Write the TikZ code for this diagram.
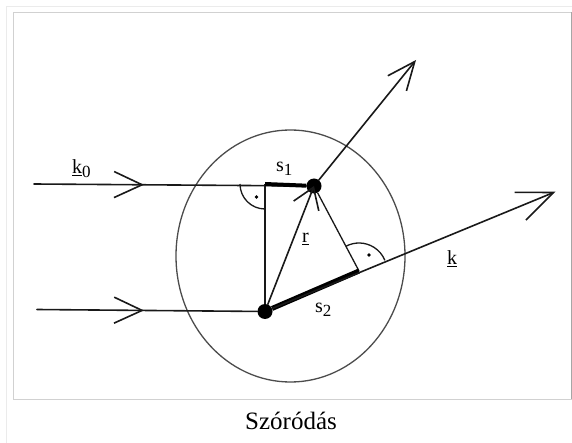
\documentclass[tikz,border=0pt]{standalone}
\usepackage{fontspec}
\setmainfont{Liberation Serif}
\usetikzlibrary{arrows.meta,decorations.markings}
\begin{document}
\begin{tikzpicture}[x=1pt,y=-1pt,
  ln/.style={line width=1.6pt, draw=black!90, line cap=round},
  thin/.style={line width=1.3pt, draw=black!90},
  thk/.style={line width=4.5pt, draw=black},
  dotnode/.style={circle, fill=black, inner sep=0pt, minimum size=15pt},
  smalldot/.style={circle, fill=black, inner sep=0pt, minimum size=3.6pt},
  lbl/.style={font=\fontsize{20}{20}\selectfont, inner sep=0pt},
  sub/.style={font=\fontsize{17}{17}\selectfont},
  chev/.style={postaction={decorate, decoration={markings,
     mark=at position #1 with {\arrow{Straight Barb[length=28pt,width=26pt,line width=1.6pt]}}}}}
]
\useasboundingbox (0,0) rectangle (572,443);
\fill[white] (0,0) rectangle (572,443);
% frames
\draw[black!8, line width=1pt] (6.5,443) -- (6.5,6.5) -- (572,6.5);
\draw[black!18, line width=1pt] (13.5,12.5) -- (13.5,399) -- (572,399);
\draw[black!18, line width=1pt] (13.5,12.5) -- (571.5,12.5);
\draw[black!35, line width=1pt] (571.5,12.5) -- (571.5,399);
% circle
\draw[black!70, line width=1.3pt] (290.5,256) ellipse [x radius=114.5, y radius=126];
% points
\coordinate (a1) at (34,184);
\coordinate (a2) at (37,309.5);
\coordinate (c) at (265,184);
\coordinate (f) at (359,271);
\coordinate (u) at (416,60);
\coordinate (kt) at (555.5,191.7);
\node[dotnode] (t) at (314,186) {};
\node[dotnode] (b) at (265,311.5) {};
% incoming rays
\draw[ln, chev=110pt] (a1) -- (t);
\draw[ln, chev=107pt] (a2) -- (b);
% construction lines
\draw[thin] (c) -- (b);
\draw[thin] (t) -- (f);
\draw[ln, -{Straight Barb[length=20pt,width=27pt]}] (b) -- (t.center);
% thick segments
\draw[line width=4pt] (c) -- (t);
\draw[line width=5pt] (b) -- (f);
% outgoing rays
\draw[ln, -{Straight Barb[length=28pt,width=24pt]}] (t) -- (u);
\draw[ln, -{Straight Barb[length=36pt,width=30pt]}] (b) -- (kt);
% right angle marks
\draw[thin] (240,184) arc[start angle=180, end angle=90, radius=25];
\node[smalldot] (d1) at (256.5,197) {};
\draw[thin] (f) ++(-118:28) arc[start angle=-118, end angle=-22.4, radius=28];
\node[smalldot] (d2) at (369,255) {};
% labels
\node[lbl, anchor=base west] (k0) at (72,174) {\underline{k}\raisebox{-4pt}{\fontsize{17}{17}\selectfont 0}};
\node[lbl, anchor=base west] (s1) at (276,172) {s\raisebox{-4pt}{\fontsize{17}{17}\selectfont 1}};
\node[lbl, anchor=base west] (rl) at (302,243) {\underline{r}};
\node[lbl, anchor=base west] (kl) at (447,265) {\underline{k}};
\node[lbl, anchor=base west] (s2) at (315,312) {s\raisebox{-5pt}{\fontsize{17}{17}\selectfont 2}};
\node[font=\fontsize{25}{25}\selectfont, anchor=base, inner sep=0pt] (cap) at (291,429) {Szóródás};
\end{tikzpicture}
\end{document}
